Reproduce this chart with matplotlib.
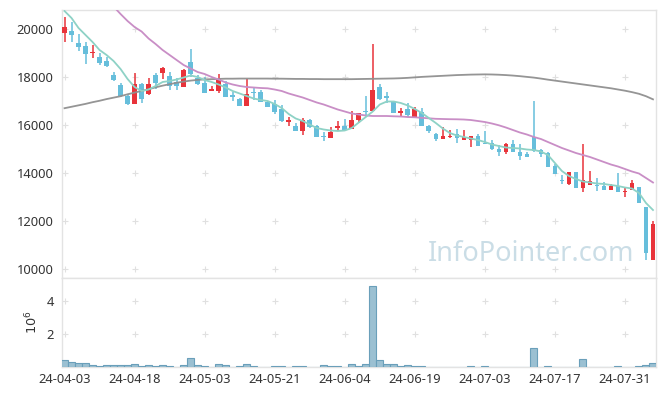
import matplotlib
matplotlib.use("Agg")
import matplotlib.pyplot as plt
import numpy as np

plt.rcParams['font.family'] = ['Noto Sans', 'DejaVu Sans']

# ---- data ----
opens = [19846, 19929, 19417, 19304, 19000, 18833, 18679, 18083, 17667, 17208,
         16875, 17708, 17292, 18071, 18179, 18042, 17804, 17596, 18625, 17971,
         17738, 17429, 17417, 17696, 17250, 17096, 16804, 17363, 17388, 16971,
         16863, 16667, 16113, 15958, 15763, 16208, 15958, 15542, 15471, 15875,
         15958, 15833, 16208, 16583, 16583, 17583, 17208, 17013, 16500, 16667,
         16346, 16554, 15958, 15625, 15417, 15500, 15625, 15388, 15388, 15542,
         15263, 15263, 15000, 14863, 15196, 14863, 14792, 15488, 14958, 14821,
         14292, 13721, 13554, 14029, 13388, 13513, 13513, 13458, 13304, 13458,
         13221, 13304, 13404, 12571, 10375]
highs = [20488, 20304, 19779, 19471, 19333, 19013, 18846, 18208, 17763, 17263,
         18154, 17763, 17946, 18179, 18404, 18208, 17946, 18320, 19167, 18083,
         17988, 17638, 18125, 17821, 17388, 17138, 17904, 17554, 17458, 17000,
         17042, 16833, 16346, 16096, 16279, 16250, 16000, 15721, 15929, 16167,
         16238, 16596, 16513, 17208, 19375, 17708, 17388, 17013, 16696, 16904,
         16763, 16721, 16000, 15679, 15929, 15792, 15821, 15792, 15542, 15613,
         15750, 15363, 15167, 15263, 15388, 15196, 14888, 17000, 14988, 14888,
         14363, 13917, 14054, 14054, 15196, 14083, 13779, 13613, 13542, 13988,
         13363, 13708, 13429, 12571, 12000]
lows = [19471, 19471, 19096, 18542, 18779, 18500, 18429, 17833, 17154, 16833,
        16875, 16904, 17250, 17513, 17904, 17458, 17458, 17570, 18013, 17667,
        17321, 17429, 17321, 17154, 17013, 16804, 16804, 17042, 16958, 16750,
        16458, 16138, 15958, 15763, 15583, 15888, 15513, 15346, 15471, 15763,
        15763, 15833, 16071, 16321, 16583, 17042, 16904, 16513, 16321, 16321,
        16321, 15971, 15679, 15346, 15417, 15446, 15238, 15388, 15071, 15138,
        15208, 14958, 14721, 14792, 14863, 14529, 14654, 14888, 14654, 14263,
        13946, 13529, 13500, 13388, 13196, 13513, 13250, 13292, 13279, 13221,
        13013, 13304, 12763, 10375, 10375]
closes = [20096, 19763, 19238, 18971, 19042, 18596, 18471, 17888, 17208, 16862,
          17708, 17083, 17708, 17763, 18363, 17625, 17638, 18292, 18113, 17696,
          17346, 17500, 17904, 17179, 17179, 16804, 17292, 17321, 16971, 16763,
          16554, 16179, 16208, 15763, 16208, 15904, 15513, 15488, 15696, 15958,
          15792, 16208, 16488, 16542, 17458, 17083, 17113, 16513, 16571, 16417,
          16667, 15971, 15763, 15417, 15542, 15554, 15471, 15513, 15542, 15138,
          15221, 14988, 14875, 15208, 14863, 14708, 14667, 14917, 14779, 14263,
          13971, 13667, 14029, 13388, 13708, 13667, 13471, 13292, 13471, 13221,
          13263, 13596, 12763, 10654, 11875]
volumes_m = [0.45, 0.33, 0.27, 0.27, 0.14, 0.08, 0.14, 0.14, 0.14, 0.14,
             0.20, 0.08, 0.14, 0.08, 0.14, 0.08, 0.02, 0.14, 0.57, 0.14,
             0.08, 0.03, 0.20, 0.14, 0.03, 0.08, 0.20, 0.08, 0.03, 0.03,
             0.08, 0.08, 0.03, 0.08, 0.08, 0.03, 0.03, 0.14, 0.08, 0.08,
             0.03, 0.20, 0.08, 0.20, 4.93, 0.41, 0.20, 0.20, 0.08, 0.14,
             0.08, 0.08, 0.03, 0.03, 0.03, 0.03, 0.03, 0.03, 0.08, 0.03,
             0.08, 0.03, 0.03, 0.03, 0.03, 0.03, 0.03, 1.18, 0.03, 0.08,
             0.03, 0.03, 0.03, 0.03, 0.51, 0.03, 0.03, 0.01, 0.03, 0.08,
             0.03, 0.03, 0.08, 0.14, 0.27]
ma_short = [20750, 20458, 20042, 19750, 19458, 19125, 18917, 18667, 18333, 17917,
            17583, 17417, 17479, 17625, 17792, 17833, 17896, 17979, 18063, 18000,
            17875, 17792, 17688, 17563, 17417, 17313, 17208, 17104, 17042, 17000,
            16875, 16708, 16458, 16271, 16167, 16021, 15875, 15813, 15771, 15750,
            15771, 15875, 16104, 16333, 16563, 16854, 16979, 16979, 16917, 16813,
            16667, 16500, 16292, 16083, 15854, 15667, 15563, 15500, 15438, 15375,
            15292, 15188, 15125, 15063, 15042, 15021, 14979, 14958, 14896, 14750,
            14417, 14083, 13875, 13750, 13646, 13604, 13563, 13542, 13500, 13458,
            13396, 13354, 13167, 12750, 12458]
ma_mid = [np.nan, np.nan, np.nan, np.nan, np.nan, np.nan, 21230, 20938, 20625, 20333,
          20083, 19896, 19604, 19375, 19125, 18917, 18708, 18500, 18354, 18208,
          18125, 18000, 17896, 17771, 17688, 17625, 17583, 17563, 17542, 17529,
          17479, 17417, 17313, 17229, 17146, 17042, 16938, 16854, 16750, 16646,
          16563, 16479, 16438, 16396, 16375, 16375, 16375, 16363, 16354, 16333,
          16321, 16300, 16279, 16258, 16250, 16242, 16238, 16229, 16208, 16167,
          16125, 16063, 15988, 15896, 15792, 15688, 15604, 15500, 15417, 15292,
          15167, 15042, 14938, 14833, 14750, 14667, 14563, 14458, 14354, 14271,
          14167, 14063, 13979, 13792, 13604]
ma_long = [16700, 16760, 16820, 16880, 16950, 17010, 17080, 17140, 17200, 17280,
           17350, 17420, 17490, 17570, 17640, 17700, 17760, 17810, 17850, 17880,
           17900, 17910, 17920, 17930, 17930, 17935, 17935, 17935, 17935, 17935,
           17930, 17930, 17925, 17920, 17920, 17915, 17915, 17910, 17910, 17910,
           17910, 17910, 17915, 17920, 17925, 17930, 17935, 17940, 17950, 17965,
           17985, 18005, 18020, 18035, 18050, 18065, 18080, 18090, 18100, 18105,
           18110, 18105, 18095, 18080, 18060, 18035, 18005, 17975, 17935, 17890,
           17850, 17810, 17770, 17730, 17690, 17650, 17610, 17570, 17530, 17480,
           17430, 17370, 17300, 17200, 17070]
tick_labels = ['24-04-03', '24-04-18', '24-05-03', '24-05-21', '24-06-04',
               '24-06-19', '24-07-03', '24-07-17', '24-07-31']
price_ticks = [10000, 12000, 14000, 16000, 18000, 20000]
vol_ticks = [2, 4]

# ---- styling ----
UP = '#e8333a'
DOWN = '#66bedb'
TXT = '#333333'
SPINE = '#e3e3e3'
CROSS = '#e0e0e0'

fig = plt.figure(figsize=(6.65, 3.96), dpi=100)
ax = fig.add_axes([62/665, 1-278/396, (656-62)/665, (278-10)/396])
axv = fig.add_axes([62/665, 1-367/396, (656-62)/665, (367-278)/396])

n = len(closes)
idx = np.arange(n)
o = np.array(opens); c = np.array(closes); h = np.array(highs); l = np.array(lows)
up = c >= o
cols = np.where(up, UP, DOWN)

# wicks
ax.vlines(idx, l, h, colors=cols, linewidth=1.1, zorder=3)
# bodies
bottoms = np.minimum(o, c)
heights = np.maximum(np.abs(c - o), 25)
ax.bar(idx, heights, bottom=bottoms, width=0.66, color=cols, linewidth=0, zorder=4)

# moving averages
ax.plot(idx, ma_long, color='#8f8f8f', lw=1.3, zorder=5, alpha=0.95)
ax.plot(idx, ma_mid, color='#c98ec6', lw=1.3, zorder=5)
ax.plot(idx, ma_short, color='#8ed2c6', lw=1.3, zorder=5)

ax.set_xlim(-0.36, 84.43)
ax.set_ylim(9625, 20792)

# volume
axv.bar(idx, volumes_m, width=1.0, color='#9bc0d2', edgecolor='#6a9fba', linewidth=0.8, zorder=3)
axv.set_xlim(-0.36, 84.43)
axv.set_ylim(0, 5.43)

xt = list(range(0, 81, 10))
for a in (ax, axv):
    for s in a.spines.values():
        s.set_color(SPINE)
        s.set_linewidth(1.0)
    a.tick_params(length=0, colors=TXT, labelsize=9.3)
    a.set_facecolor('white')

ax.set_yticks(price_ticks)
ax.set_yticklabels([str(v) for v in price_ticks])
ax.set_xticks(xt)
ax.set_xticklabels([])
axv.set_yticks(vol_ticks)
axv.set_yticklabels([str(v) for v in vol_ticks])
axv.set_xticks(xt)
axv.set_xticklabels(tick_labels)
ax.tick_params(axis='y', pad=6)
axv.tick_params(axis='y', pad=6)
axv.tick_params(axis='x', pad=4)

# grid crosses
gx, gy = np.meshgrid(xt, price_ticks)
ax.scatter(gx.ravel(), gy.ravel(), marker='+', s=22, color=CROSS, linewidths=0.8, zorder=1)
gx2, gy2 = np.meshgrid(xt, vol_ticks)
axv.scatter(gx2.ravel(), gy2.ravel(), marker='+', s=22, color=CROSS, linewidths=0.8, zorder=1)

fig.text(32/665, 1-322/396, r'$10^6$', rotation=90, ha='center', va='center', color=TXT, fontsize=9.3)

# watermark
ax.text(0.790, 0.062, 'InfoPointer.com', transform=ax.transAxes, ha='center', va='baseline',
        fontsize=19.5, color='#b9d2de', alpha=0.75, zorder=2)

fig.savefig('out.png', dpi=100)
